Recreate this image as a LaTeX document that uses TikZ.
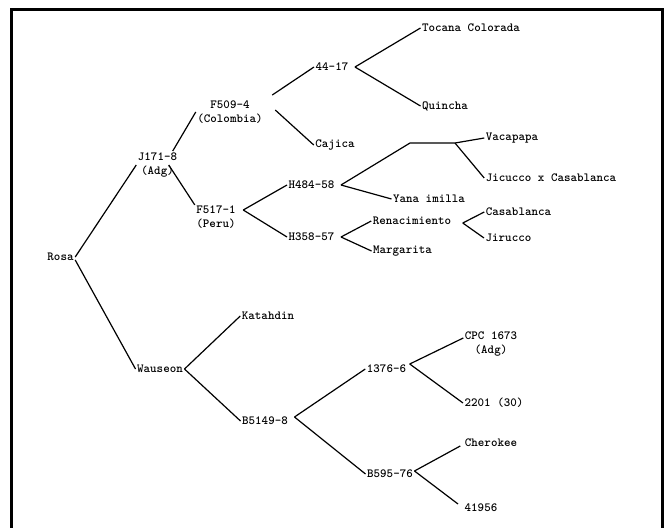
\documentclass[tikz,border=0pt]{standalone}
\usepackage{tikz}

\begin{document}
\begin{tikzpicture}[
  x=1pt,y=-1pt,
  cultivar/.style={font=\ttfamily\bfseries\fontsize{12.4}{14}\selectfont,align=center,inner sep=1.5pt,text=black},
  link/.style={draw=black,line width=1.2pt},
  frame/.style={draw=black,line width=3pt,line join=miter}
]
\useasboundingbox (0,0) rectangle (665,528);
\draw[frame] (11,528) -- (11,9) -- (662,9) -- (662,528);

% upper branch
\node[cultivar] (rosa) at (60.5,257) {Rosa};
\node[cultivar] (j171) at (157.5,165) {J171-8\\(Adg)};
\node[cultivar] (f509) at (230,112) {F509-4\\(Colombia)};
\node[cultivar] (f517) at (216,217) {F517-1\\(Peru)};
\node[cultivar] (n4417) at (332,67) {44-17};
\node[cultivar] (cajica) at (335,145) {Cajica};
\node[cultivar] (h484) at (311.5,185) {H484-58};
\node[cultivar] (h358) at (311.5,237) {H358-57};
\node[cultivar] (tocana) at (471,28) {Tocana Colorada};
\node[cultivar] (quincha) at (445,106) {Quincha};
\node[cultivar] (vacapapa) at (512,138) {Vacapapa};
\node[cultivar] (jicucco) at (551,178) {Jicucco x Casablanca};
\node[cultivar] (yana) at (429,199) {Yana imilla};
\node[cultivar] (renac) at (412,221) {Renacimiento};
\node[cultivar] (margarita) at (402.5,251) {Margarita};
\node[cultivar] (casablanca) at (518.5,212) {Casablanca};
\node[cultivar] (jirucco) at (508.5,238) {Jirucco};
\coordinate (vjoin) at (410,143);
\coordinate (vsplit) at (455,143);

% lower branch
\node[cultivar] (wauseon) at (160,369) {Wauseon};
\node[cultivar] (katahdin) at (268,316) {Katahdin};
\node[cultivar] (b5149) at (265,421) {B5149-8};
\node[cultivar] (n1376) at (386.5,369) {1376-6};
\node[cultivar] (b595) at (390,474) {B595-76};
\node[cultivar] (cpc) at (491,344) {CPC 1673\\(Adg)};
\node[cultivar] (n2201) at (494,403) {2201 (30)};
\node[cultivar] (cherokee) at (491,443) {Cherokee};
\node[cultivar] (n41956) at (481,508) {41956};

\draw[link] (rosa.east) -- (j171.west);
\draw[link] ([yshift=-3pt]rosa.east) -- (wauseon.west);
\draw[link] ([xshift=-6pt]j171.north east) -- (f509.west);
\draw[link] ([xshift=-10pt]j171.east) -- ([yshift=-1pt]f517.north west);
\draw[link] ([xshift=8pt,yshift=17pt]f509.east) -- (n4417.west);
\draw[link] ([xshift=11pt,yshift=2pt]f509.east) -- (cajica.west);
\draw[link] ([xshift=5pt]n4417.east) -- (tocana.west);
\draw[link] ([xshift=5pt]n4417.east) -- (quincha.west);
\draw[link] ([xshift=6pt,yshift=7pt]f517.east) -- (h484.west);
\draw[link] ([xshift=6pt,yshift=7pt]f517.east) -- (h358.west);
\draw[link] ([xshift=5pt]h484.east) -- (vjoin) -- (vsplit) -- (vacapapa.west);
\draw[link] (vsplit) -- (jicucco.west);
\draw[link] ([xshift=5pt]h484.east) -- (yana.west);
\draw[link] ([xshift=5pt]h358.east) -- (renac.west);
\draw[link] ([xshift=5pt]h358.east) -- (margarita.west);
\draw[link] ([xshift=10pt,yshift=-2pt]renac.east) -- (casablanca.west);
\draw[link] ([xshift=10pt,yshift=-2pt]renac.east) -- (jirucco.west);
\draw[link] (wauseon.east) -- (katahdin.west);
\draw[link] (wauseon.east) -- (b5149.west);
\draw[link] ([xshift=5pt,yshift=4pt]b5149.east) -- (n1376.west);
\draw[link] ([xshift=5pt,yshift=4pt]b5149.east) -- (b595.west);
\draw[link] ([xshift=2pt,yshift=5pt]n1376.east) -- ([yshift=6pt]cpc.west);
\draw[link] ([xshift=2pt,yshift=5pt]n1376.east) -- (n2201.west);
\draw[link] ([yshift=3pt]b595.east) -- ([xshift=-3pt,yshift=-3pt]cherokee.west);
\draw[link] ([yshift=3pt]b595.east) -- ([xshift=-5pt,yshift=4pt]n41956.west);
\end{tikzpicture}
\end{document}
